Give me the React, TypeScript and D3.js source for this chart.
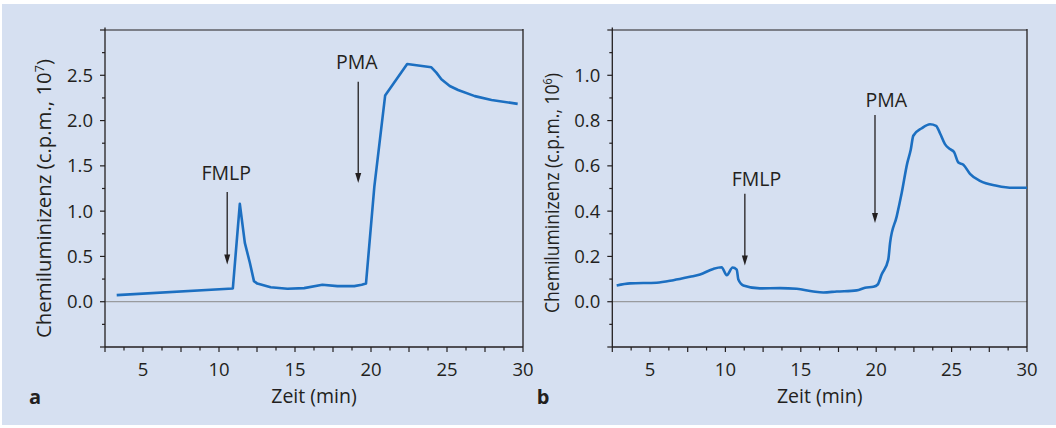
import React from "react";
import * as d3 from "d3";

// ---------- data ----------
const timeA = [3.27, 10.91, 11.37, 11.7, 12.03, 12.3, 12.52, 13.4, 14.5, 15.6, 16.8, 17.79, 18.9, 19.39, 19.67, 20.22, 20.93, 22.38, 23.97, 24.3, 24.63, 25.18, 25.73, 26.83, 27.93, 29.65];
const valueA = [0.073, 0.146, 1.08, 0.65, 0.43, 0.227, 0.2, 0.16, 0.143, 0.15, 0.187, 0.172, 0.172, 0.187, 0.2, 1.27, 2.276, 2.624, 2.588, 2.529, 2.456, 2.382, 2.338, 2.27, 2.228, 2.184];

const timeB = [2.79, 3.67, 5.44, 6.55, 7.65, 8.32, 9.2, 9.75, 10.09, 10.48, 10.75, 10.86, 11.19, 12.29, 13.62, 14.73, 15.83, 16.49, 17.38, 18.71, 19.26, 19.81, 20.1, 20.36, 20.8, 20.92, 21.36, 21.69, 22.06, 22.29, 22.46, 23.02, 23.57, 23.97, 24.23, 24.56, 24.89, 25.16, 25.45, 25.78, 26.22, 26.88, 27.99, 29.09, 30];
const valueB = [0.072, 0.081, 0.084, 0.095, 0.11, 0.12, 0.145, 0.152, 0.117, 0.151, 0.142, 0.098, 0.072, 0.059, 0.06, 0.057, 0.045, 0.041, 0.045, 0.05, 0.062, 0.066, 0.076, 0.12, 0.186, 0.26, 0.377, 0.48, 0.612, 0.671, 0.733, 0.766, 0.784, 0.777, 0.744, 0.696, 0.674, 0.661, 0.615, 0.605, 0.565, 0.534, 0.512, 0.503, 0.503];

const xTickLabels = [5, 10, 15, 20, 25, 30];
const yTickLabelsA = [0, 0.5, 1.0, 1.5, 2.0, 2.5];
const yTickLabelsB = [0, 0.2, 0.4, 0.6, 0.8, 1.0];

// annotations: [label, arrowX, arrowTop, arrowTip, labelX, labelY]
const annotA: [string, number, number, number, number, number][] = [
  ["FMLP", 10.54, 1.21, 0.41, 10.47, 1.347],
  ["PMA", 19.16, 2.43, 1.31, 19.06, 2.569],
];
const annotB: [string, number, number, number, number, number][] = [
  ["FMLP", 11.29, 0.477, 0.16, 12.06, 0.509],
  ["PMA", 19.92, 0.825, 0.348, 20.67, 0.862],
];

const FONT = "'Open Sans', 'Noto Sans', sans-serif";
const AXIS = "#231f20";
const BLUE = "#1c6fc1";

type PanelProps = {
  left: number; right: number; top: number; bottom: number;
  yDomain: [number, number]; yMajor: number; yMinor: number;
  yLabels: number[]; times: number[]; values: number[];
  exp: string; letter: string; letterX: number; titleX: number; titleLen: number; titleY: number;
  annots: [string, number, number, number, number, number][];
  curve: any;
};

function Panel(p: PanelProps) {
  const x = d3.scaleLinear().domain([2.5, 30]).range([p.left, p.right]);
  const y = d3.scaleLinear().domain(p.yDomain).range([p.bottom, p.top]);
  const xMinor = d3.range(0, 23).map((i) => 2.5 + i * 1.25);
  const nY = Math.round((p.yDomain[1] - p.yDomain[0]) / p.yMinor);
  const yTicks = d3.range(0, nY + 1).map((i) => p.yDomain[0] + i * p.yMinor);
  const line = d3.line<number>().x((_, i) => x(p.times[i])).y((v) => y(v)).curve(p.curve);
  const fmt = d3.format(".1f");
  const isMajorX = (t: number) => Math.abs(t / 2.5 - Math.round(t / 2.5)) < 1e-6;
  const isMajorY = (v: number) => Math.abs(v / p.yMajor - Math.round(v / p.yMajor)) < 1e-6;
  return (
    <g>
      {/* zero line */}
      <line x1={p.left} x2={p.right} y1={y(0)} y2={y(0)} stroke="#8a8a8a" strokeWidth={1} />
      {/* frame */}
      <line x1={p.left} x2={p.right} y1={p.top} y2={p.top} stroke={AXIS} strokeWidth={1.1} />
      <line x1={p.right} x2={p.right} y1={p.top - 1} y2={p.bottom} stroke={AXIS} strokeWidth={1.3} />
      <line x1={p.left} x2={p.left} y1={p.top - 2.5} y2={p.bottom} stroke={AXIS} strokeWidth={1.3} />
      <line x1={p.left} x2={p.right} y1={p.bottom} y2={p.bottom} stroke={AXIS} strokeWidth={1.3} />
      {/* x ticks */}
      {xMinor.map((t) => (
        <line key={"xt" + t} x1={x(t)} x2={x(t)} y1={p.bottom} y2={p.bottom + (isMajorX(t) ? 5 : 3.5)} stroke={AXIS} strokeWidth={1.2} />
      ))}
      {xTickLabels.map((t) => (
        <text key={"xl" + t} x={x(t)} y={p.bottom + 28.5} textAnchor="middle" fontFamily={FONT} fontSize={18.5} fill={AXIS}>{t}</text>
      ))}
      {/* y ticks */}
      {yTicks.map((v) => (
        <line key={"yt" + v} x1={p.left - (isMajorY(v) ? 5 : 3)} x2={p.left} y1={y(v)} y2={y(v)} stroke={AXIS} strokeWidth={1.2} />
      ))}
      {p.yLabels.map((v) => (
        <text key={"yl" + v} x={p.left - 12} y={y(v)} dy="0.35em" textAnchor="end" fontFamily={FONT} fontSize={18.5} fill={AXIS}>{fmt(v)}</text>
      ))}
      {/* curve */}
      <path d={line(p.values) || ""} fill="none" stroke={BLUE} strokeWidth={2.6} strokeLinejoin="round" />
      {/* annotations */}
      {p.annots.map(([lab, ax, atop, atip, lx, ly]) => (
        <g key={lab}>
          <line x1={x(ax)} x2={x(ax)} y1={y(atop)} y2={y(atip) - 9} stroke={AXIS} strokeWidth={1.3} />
          <path d={`M${x(ax) - 3},${y(atip) - 10} L${x(ax) + 3},${y(atip) - 10} L${x(ax)},${y(atip)} Z`} fill={AXIS} />
          <text x={x(lx)} y={y(ly)} textAnchor="middle" fontFamily={FONT} fontSize={19.5} fill={AXIS}>{lab}</text>
        </g>
      ))}
      {/* axis titles */}
      <text x={(p.left + p.right) / 2} y={p.bottom + 56} textAnchor="middle" fontFamily={FONT} fontSize={19.5} fill={AXIS}>Zeit (min)</text>
      <text transform={`translate(${p.titleX},${p.titleY}) rotate(-90)`} textAnchor="middle" fontFamily={FONT} fontSize={19.5} fill={AXIS}
        textLength={p.titleLen} lengthAdjust="spacingAndGlyphs">
        Chemiluminizenz (c.p.m., 10<tspan dy="-7" fontSize={12}>{p.exp}</tspan><tspan dy="7">)</tspan>
      </text>
      <text x={p.letterX} y={p.bottom + 57} textAnchor="middle" fontFamily={FONT} fontSize={20} fontWeight="bold" fill={AXIS}>{p.letter}</text>
    </g>
  );
}

export default function App() {
  return (
    <svg width={1056} height={428} style={{ position: "absolute", left: 0, top: 0 }}>
      <rect x={0} y={0} width={1056} height={428} fill="#ffffff" />
      <rect x={2} y={4} width={1054} height={421} fill="#d6e0f1" />
      <Panel left={105} right={523} top={30} bottom={347} yDomain={[-0.5, 3.0]} yMajor={0.5} yMinor={0.25}
        yLabels={yTickLabelsA} times={timeA} values={valueA} exp="7" letter="a" letterX={35}
        titleX={51} titleLen={279} titleY={198.5} annots={annotA} curve={d3.curveLinear} />
      <Panel left={612.3} right={1027} top={30} bottom={347} yDomain={[-0.2, 1.2]} yMajor={0.2} yMinor={0.1}
        yLabels={yTickLabelsB} times={timeB} values={valueB} exp="6" letter="b" letterX={543}
        titleX={559} titleLen={240} titleY={193} annots={annotB} curve={d3.curveMonotoneX} />
    </svg>
  );
}
